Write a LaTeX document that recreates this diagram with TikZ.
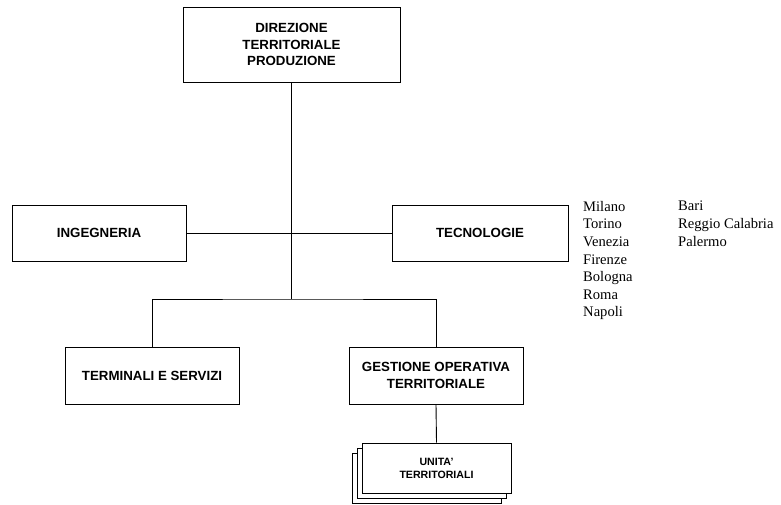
\documentclass[tikz,border=0pt]{standalone}
\usepackage{fontspec}
\setmainfont{Liberation Serif}
\setsansfont{Liberation Sans}
\usetikzlibrary{positioning,shadows}

\begin{document}
\begin{tikzpicture}[x=1pt,y=-1pt]
	\tikzstyle{ufficio}=[draw, rectangle, line width=0.9pt, text centered, align=center, inner sep=0pt, font=\sffamily\bfseries\fontsize{13.3}{16.5}\selectfont]
	\tikzstyle{unita}=[ufficio, fill=white, double copy shadow={shadow xshift=-5pt, shadow yshift=-5pt}, font=\sffamily\bfseries\fontsize{10.6}{13}\selectfont]
	\tikzstyle{citta}=[anchor=north west, align=left, inner sep=0pt, font=\fontsize{14.6}{17.6}\selectfont]
	\useasboundingbox (0,0) rectangle (781,504);

	\node[ufficio, minimum width=217pt, minimum height=75pt] (dir) at (291.5,44.5) {DIREZIONE\\TERRITORIALE\\PRODUZIONE};
	\node[ufficio, minimum width=174pt, minimum height=56pt] (ing) at (99,233) {INGEGNERIA};
	\node[ufficio, minimum width=176pt, minimum height=56pt] (tec) at (480,233) {TECNOLOGIE};
	\node[ufficio, minimum width=174pt, minimum height=57pt] (term) at (152,375.5) {TERMINALI E SERVIZI};
	\node[ufficio, minimum width=174pt, minimum height=57pt] (gest) at (436,375.5) {GESTIONE OPERATIVA\\TERRITORIALE};
	\node[unita, minimum width=149pt, minimum height=50pt] (unit) at (436.5,468) {UNITA'\\TERRITORIALI};

	\node[citta] (citta1) at (583,201) {Milano\\Torino\\Venezia\\Firenze\\Bologna\\Roma\\Napoli};
	\node[citta] (citta2) at (678,201) {Bari\\Reggio Calabria\\Palermo};

	\coordinate (jn) at (291.5,299);

	\draw[line width=0.9pt] (ing) -- (tec);
	\draw[line width=0.9pt] (dir.south) -- (jn);
	\draw[line width=0.9pt] (term.north) |- (jn) -| (gest.north);
	\draw[line width=0.9pt] (gest.south) -- (unit.north);
\end{tikzpicture}
\end{document}
